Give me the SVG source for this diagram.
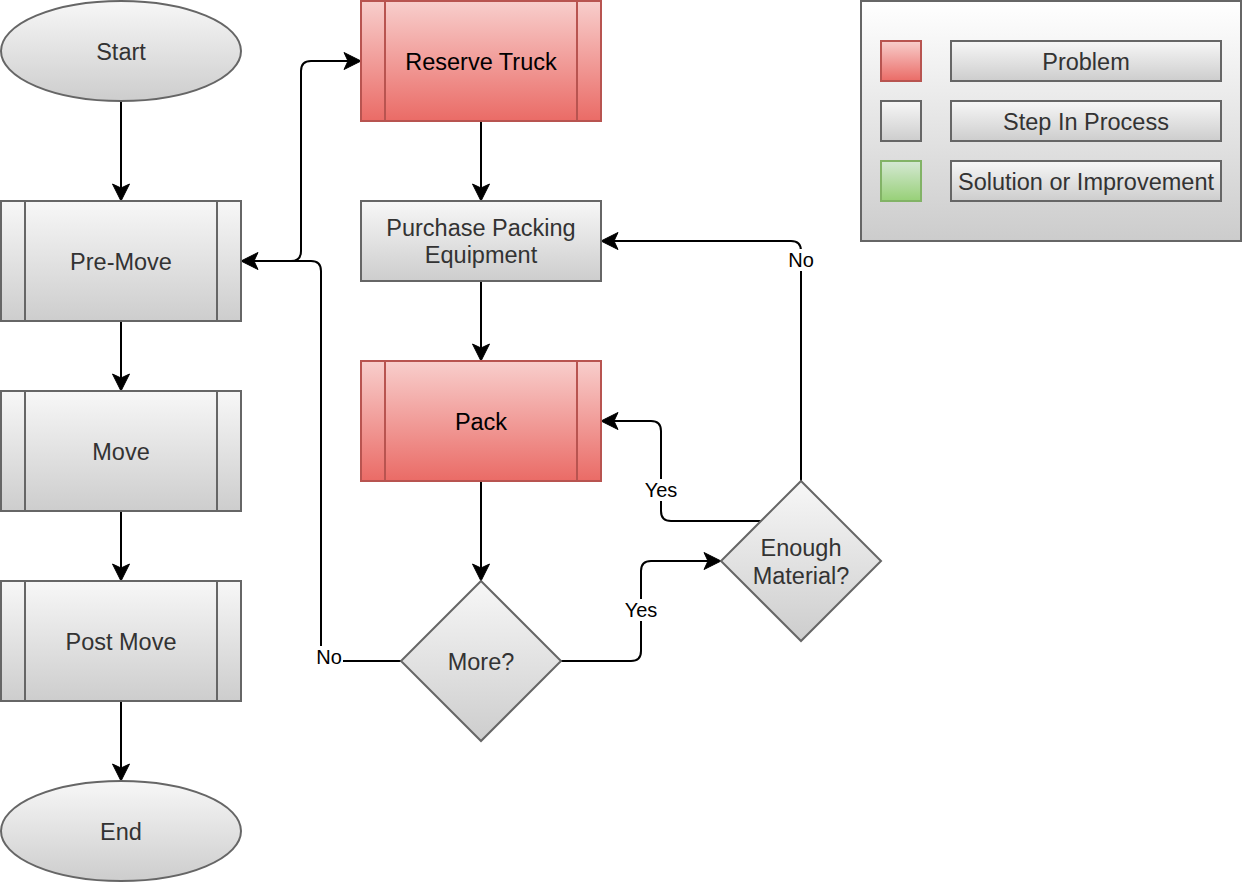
<svg xmlns="http://www.w3.org/2000/svg" width="1242" height="882" viewBox="0 0 1242 882">
<style>
.grey{fill:url(#gGrey);stroke:#666666;stroke-width:2}
.red{fill:url(#gRed);stroke:#b85450;stroke-width:2}
.green{fill:url(#gGreen);stroke:#82b366;stroke-width:2}
.legbg{fill:url(#gLeg);stroke:#666666;stroke-width:2}
.t{font-family:"Liberation Sans",Arial,sans-serif;font-size:23.5px;text-anchor:middle;fill:#333333}
.tr{fill:#000000}
.lbl{font-family:"Liberation Sans",Arial,sans-serif;font-size:20px;text-anchor:middle;fill:#000000}
.lblbg{fill:#ffffff}
.e{fill:none;stroke:#000000;stroke-width:2}
.ea{marker-end:url(#arr)}
</style>
<defs>
<linearGradient id="gGrey" x1="0" y1="0" x2="0" y2="1">
<stop offset="0" stop-color="#f7f7f7"/><stop offset="1" stop-color="#cdcdcd"/>
</linearGradient>
<linearGradient id="gRed" x1="0" y1="0" x2="0" y2="1">
<stop offset="0" stop-color="#f8cecc"/><stop offset="1" stop-color="#ea6b66"/>
</linearGradient>
<linearGradient id="gGreen" x1="0" y1="0" x2="0" y2="1">
<stop offset="0" stop-color="#d5e8d4"/><stop offset="1" stop-color="#97d077"/>
</linearGradient>
<linearGradient id="gLeg" x1="0" y1="0" x2="0" y2="1">
<stop offset="0" stop-color="#ffffff"/><stop offset="1" stop-color="#cccccc"/>
</linearGradient>
<marker id="arr" markerUnits="userSpaceOnUse" markerWidth="20" markerHeight="20" refX="4" refY="0" orient="auto" overflow="visible">
<path d="M0,-8.5 L17,0 L0,8.5 L4,0 Z" fill="#000000" stroke="#000000" stroke-width="1" stroke-linejoin="miter"/>
</marker>
</defs>

<g id="legend">
<rect class="legbg" x="861" y="1" width="380" height="240"/>
<rect class="red" x="881" y="41" width="40" height="40"/>
<rect class="grey" x="951" y="41" width="270" height="40"/>
<text class="t" x="1086" y="69.5">Problem</text>
<rect class="grey" x="881" y="101" width="40" height="40"/>
<rect class="grey" x="951" y="101" width="270" height="40"/>
<text class="t" x="1086" y="129.5">Step In Process</text>
<rect class="green" x="881" y="161" width="40" height="40"/>
<rect class="grey" x="951" y="161" width="270" height="40"/>
<text class="t" x="1086" y="189.5">Solution or Improvement</text>
</g>

<g id="connectors">
<path class="e ea" d="M121,101 V188"/>
<path class="e ea" d="M121,321 V378"/>
<path class="e ea" d="M121,511 V568"/>
<path class="e ea" d="M121,701 V768"/>
<path class="e ea" d="M241,261 H291 Q301,261 301,251 V71 Q301,61 311,61 H348"/>
<path class="e ea" d="M481,121 V188"/>
<path class="e ea" d="M481,281 V348"/>
<path class="e ea" d="M481,481 V568"/>
<path class="e ea" d="M401,661 H331 Q321,661 321,651 V271 Q321,261 311,261 H254"/>
<path class="e ea" d="M561,661 H631 Q641,661 641,651 V571 Q641,561 651,561 H708"/>
<path class="e ea" d="M761,521 H671 Q661,521 661,511 V431 Q661,421 651,421 H614"/>
<path class="e ea" d="M801,481 V251 Q801,241 791,241 H614"/>
<g id="labels">
<rect class="lblbg" x="315" y="646" width="28" height="22"/>
<text class="lbl" x="329" y="664">No</text>
<rect class="lblbg" x="622" y="599" width="38" height="22"/>
<text class="lbl" x="641" y="617">Yes</text>
<rect class="lblbg" x="642" y="479" width="38" height="22"/>
<text class="lbl" x="661" y="497">Yes</text>
<rect class="lblbg" x="787" y="249" width="28" height="22"/>
<text class="lbl" x="801" y="267">No</text>
</g>
</g>

<g id="start">
<ellipse class="grey" cx="121" cy="51" rx="120" ry="50"/>
<text class="t" x="121" y="59.5">Start</text>
</g>
<g id="pre-move">
<rect class="grey" x="1" y="201" width="240" height="120"/>
<path class="grey" d="M25,201 V321 M217,201 V321" fill="none"/>
<text class="t" x="121" y="269.5">Pre-Move</text>
</g>
<g id="move">
<rect class="grey" x="1" y="391" width="240" height="120"/>
<path class="grey" d="M25,391 V511 M217,391 V511" fill="none"/>
<text class="t" x="121" y="459.5">Move</text>
</g>
<g id="post-move">
<rect class="grey" x="1" y="581" width="240" height="120"/>
<path class="grey" d="M25,581 V701 M217,581 V701" fill="none"/>
<text class="t" x="121" y="649.5">Post Move</text>
</g>
<g id="end">
<ellipse class="grey" cx="121" cy="831" rx="120" ry="50"/>
<text class="t" x="121" y="839.5">End</text>
</g>
<g id="reserve-truck">
<rect class="red" x="361" y="1" width="240" height="120"/>
<path class="red" d="M385,1 V121 M577,1 V121" fill="none"/>
<text class="t tr" x="481" y="69.5">Reserve Truck</text>
</g>
<g id="purchase">
<rect class="grey" x="361" y="201" width="240" height="80"/>
<text class="t" x="481" y="236">Purchase Packing</text>
<text class="t" x="481" y="263">Equipment</text>
</g>
<g id="pack">
<rect class="red" x="361" y="361" width="240" height="120"/>
<path class="red" d="M385,361 V481 M577,361 V481" fill="none"/>
<text class="t tr" x="481" y="429.5">Pack</text>
</g>
<g id="more">
<path class="grey" d="M481,581 L561,661 L481,741 L401,661 Z"/>
<text class="t" x="481" y="669.5">More?</text>
</g>
<g id="enough">
<path class="grey" d="M801,481 L881,561 L801,641 L721,561 Z"/>
<text class="t" x="801" y="556">Enough</text>
<text class="t" x="801" y="583.5">Material?</text>
</g>
</svg>
